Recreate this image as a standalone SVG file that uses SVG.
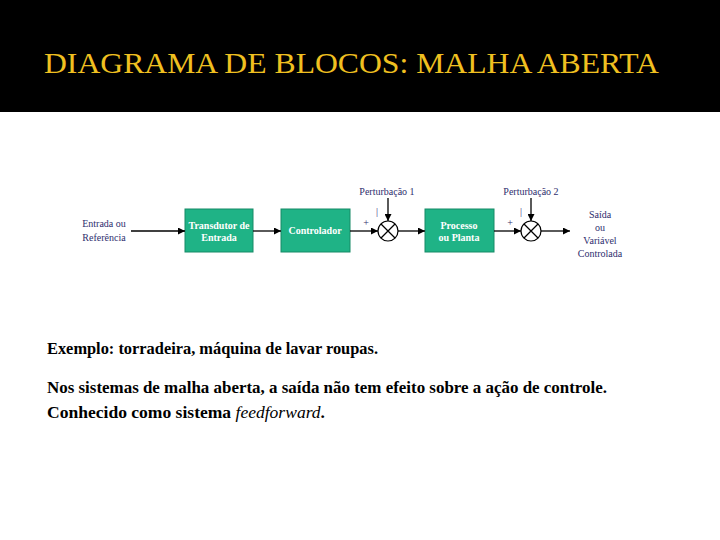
<svg xmlns="http://www.w3.org/2000/svg" width="720" height="540" viewBox="0 0 720 540">
<defs>
<marker id="ah" viewBox="0 0 10 10" refX="10" refY="5" markerWidth="7" markerHeight="7" markerUnits="userSpaceOnUse" orient="auto"><path d="M0,0 L10,5 L0,10 z" fill="#000"/></marker>
<style>
.blk{fill:#1fb386;stroke:#178a66;stroke-width:1}
.bt{font-family:'Liberation Serif','Times New Roman','DejaVu Serif',serif;font-size:10px;font-weight:bold;fill:#fff;text-anchor:middle}
.lb{font-family:'Liberation Serif','Times New Roman','DejaVu Serif',serif;font-size:10px;fill:#2e2e6e;text-anchor:middle}
.ln{stroke:#000;stroke-width:1.3;fill:none}
.sum{fill:#fff;stroke:#000;stroke-width:1.2}
.body{font-family:'Liberation Serif','Times New Roman','DejaVu Serif',serif;font-size:17px;font-weight:bold;fill:#000}
.ttl{font-family:'Liberation Serif','Times New Roman','DejaVu Serif',serif;font-size:30px;fill:#f0c020}
</style>
</defs>
<rect width="720" height="540" fill="#fff"/>
<rect width="720" height="112" fill="#000"/>
<text class="ttl" x="44" y="73" textLength="615" lengthAdjust="spacingAndGlyphs">DIAGRAMA DE BLOCOS: MALHA ABERTA</text>

<g id="input"><text class="lb" x="104" y="227">Entrada ou</text><text class="lb" x="104" y="241">Referência</text></g>
<g id="transdutor"><rect class="blk" x="185" y="209" width="68" height="43"/><text class="bt" x="219" y="229">Transdutor de</text><text class="bt" x="219" y="241">Entrada</text></g>
<g id="controlador"><rect class="blk" x="281" y="209" width="69" height="43"/><text class="bt" x="315" y="234">Controlador</text></g>
<g id="sum1"><circle class="sum" cx="388" cy="231" r="10"/><path class="ln" d="M381,224 L395,238 M395,224 L381,238"/><text class="lb" x="366" y="226">+</text><text class="lb" x="377" y="215">|</text><text class="lb" x="387" y="195">Perturbação 1</text></g>
<g id="processo"><rect class="blk" x="425" y="209" width="69" height="43"/><text class="bt" x="459" y="229">Processo</text><text class="bt" x="459" y="241">ou Planta</text></g>
<g id="sum2"><circle class="sum" cx="531" cy="231" r="10"/><path class="ln" d="M524,224 L538,238 M538,224 L524,238"/><text class="lb" x="510" y="226">+</text><text class="lb" x="521" y="215">|</text><text class="lb" x="531" y="195">Perturbação 2</text></g>
<g id="output"><text class="lb" x="600" y="218">Saída</text><text class="lb" x="600" y="231">ou</text><text class="lb" x="600" y="244">Variável</text><text class="lb" x="600" y="257">Controlada</text></g>

<g id="connectors">
<path class="ln" marker-end="url(#ah)" d="M131,231 L185,231"/>
<path class="ln" marker-end="url(#ah)" d="M253,231 L281,231"/>
<path class="ln" marker-end="url(#ah)" d="M350,231 L378,231"/>
<path class="ln" marker-end="url(#ah)" d="M388,198 L388,221"/>
<path class="ln" marker-end="url(#ah)" d="M398,231 L425,231"/>
<path class="ln" marker-end="url(#ah)" d="M494,231 L521,231"/>
<path class="ln" marker-end="url(#ah)" d="M531,198 L531,221"/>
<path class="ln" marker-end="url(#ah)" d="M541,231 L570,231"/>
</g>

<text class="body" x="47" y="354" textLength="331" lengthAdjust="spacingAndGlyphs">Exemplo: torradeira, máquina de lavar roupas.</text>
<text class="body" x="47" y="393" textLength="560" lengthAdjust="spacingAndGlyphs">Nos sistemas de malha aberta, a saída não tem efeito sobre a ação de controle.</text>
<text class="body" x="47" y="418" textLength="278" lengthAdjust="spacingAndGlyphs">Conhecido como sistema <tspan font-style="italic" font-weight="normal">feedforward</tspan>.</text>
</svg>
